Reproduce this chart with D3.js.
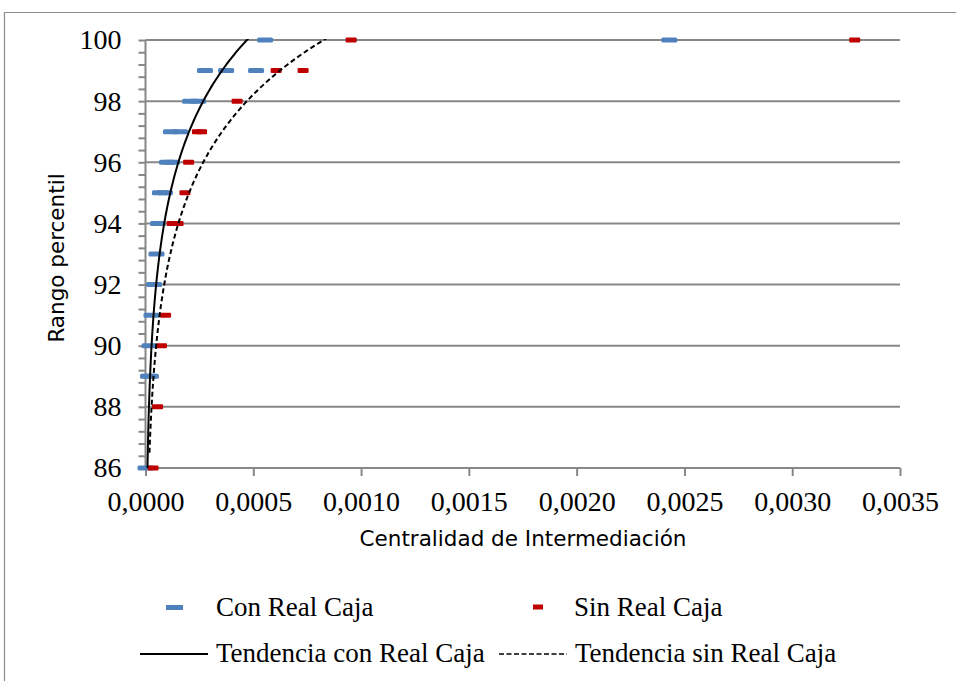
<!DOCTYPE html>
<html>
<head>
<meta charset="utf-8">
<script src="https://cdn.jsdelivr.net/npm/d3@7/dist/d3.min.js"></script>
<style>
  html, body { margin: 0; padding: 0; background: #fff; }
  svg { display: block; }
</style>
</head>
<body>
<svg id="chart" width="956" height="681"></svg>
<script>
// ---- Data ----
const conY = [100, 100, 99, 99, 99, 98, 98, 97, 97, 96, 96, 95, 95, 94, 93, 92, 91, 90, 89, 89, 86];
const conX = [0.000555, 0.00243, 0.000276, 0.000374, 0.000513, 0.000207, 0.000244, 0.000118, 0.00016,
              0.0001, 0.000123, 0.000067, 0.00009, 0.000058, 0.000051, 0.00004, 0.000028, 0.000019,
              0.000012, 0.000025, 0];
const sinY = [100, 100, 99, 99, 98, 97, 97, 96, 95, 94, 94, 91, 90, 88, 86];
const sinX = [0.000954, 0.00329, 0.000606, 0.000731, 0.000425, 0.000241, 0.00026, 0.0002, 0.000183,
              0.000123, 0.000151, 0.000093, 0.000074, 0.000056, 0.000035];

// logarithmic trend lines: y = a * ln(x) + b
const trendNames = ["Tendencia con Real Caja", "Tendencia sin Real Caja"];
const trendA = [3.55, 3.55];
const trendB = [127.2, 125.2];
const trendYMin = [86, 86.5];

const seriesNames = ["Con Real Caja", "Sin Real Caja"];
const xTicks = [0, 0.0005, 0.001, 0.0015, 0.002, 0.0025, 0.003, 0.0035];
const yTicks = [86, 88, 90, 92, 94, 96, 98, 100];

// ---- Setup ----
const svg = d3.select("#chart");
const blue = "#4F81BD", red = "#C00000", gray = "#878787";
const serif = "'Liberation Serif', 'Times New Roman', serif";
const sans = "'DejaVu Sans', Verdana, sans-serif";

const x = d3.scaleLinear().domain([0, 0.0035]).range([145.5, 900]);
const y = d3.scaleLinear().domain([86, 100]).range([468, 40]);

// outer chart border
svg.append("path")
  .attr("d", "M4.5,690 V12.5 H960")
  .attr("fill", "none").attr("stroke", "#8c8c8c").attr("stroke-width", 1.2);

// gridlines
svg.append("g").selectAll("line").data(yTicks).join("line")
  .attr("x1", x(0)).attr("x2", x(0.0035))
  .attr("y1", d => y(d)).attr("y2", d => y(d))
  .attr("stroke", gray).attr("stroke-width", 2);

// y axis minor ticks
const minor = d3.range(0, 36).map(i => 86 + i * 0.4);
const yMinor = svg.append("g").attr("transform", `translate(${x(0)},0)`)
  .call(d3.axisLeft(y).tickValues(minor).tickSize(7).tickFormat(""));
yMinor.selectAll("line").attr("stroke", gray).attr("stroke-width", 2);
yMinor.select(".domain").attr("stroke", gray).attr("stroke-width", 2).attr("d", `M0,${y(100)}V${y(86)}`);

// y axis labels
const yLab = svg.append("g").attr("transform", `translate(${x(0)},0)`)
  .call(d3.axisLeft(y).tickValues(yTicks).tickSize(0).tickPadding(24).tickFormat(d3.format("d")));
yLab.select(".domain").remove();
yLab.selectAll("text").attr("font-family", serif).attr("font-size", 28).attr("fill", "#000");

// x axis
const loc = d3.formatLocale({decimal: ",", thousands: ".", grouping: [3], currency: ["", ""]});
const xAx = svg.append("g").attr("transform", `translate(0,${y(86)})`)
  .call(d3.axisBottom(x).tickValues(xTicks).tickSize(8).tickPadding(15).tickFormat(loc.format(".4f")));
xAx.selectAll("line").attr("stroke", gray).attr("stroke-width", 2);
xAx.select(".domain").attr("stroke", gray).attr("stroke-width", 2).attr("d", `M${x(0)},0H${x(0.0035)}`);
xAx.selectAll("text").attr("font-family", serif).attr("font-size", 28).attr("fill", "#000");

// axis titles
svg.append("text").attr("x", 523).attr("y", 546).attr("text-anchor", "middle")
  .attr("font-family", sans).attr("font-size", 21.5).attr("fill", "#000")
  .text("Centralidad de Intermediación");
svg.append("text").attr("transform", "translate(64,258) rotate(-90)").attr("text-anchor", "middle")
  .attr("font-family", sans).attr("font-size", 21.5).attr("fill", "#000")
  .text("Rango percentil");

// markers
const conData = conX.map((v, i) => ({x: v, y: conY[i]}));
const sinData = sinX.map((v, i) => ({x: v, y: sinY[i]}));
svg.append("g").selectAll("rect").data(conData).join("rect")
  .attr("x", d => x(d.x) - 8).attr("y", d => y(d.y) - 2.5)
  .attr("width", 16).attr("height", 5).attr("rx", 1.5)
  .attr("fill", blue);
svg.append("g").selectAll("rect").data(sinData).join("rect")
  .attr("x", d => x(d.x) - 5.5).attr("y", d => y(d.y) - 2.5)
  .attr("width", 11).attr("height", 5).attr("rx", 1)
  .attr("fill", red);

// trend lines
svg.append("defs").append("clipPath").attr("id", "plotclip")
  .append("rect").attr("x", x(0)).attr("y", y(100) - 1).attr("width", x(0.0035) - x(0)).attr("height", y(86) - y(100) + 2);
const line = d3.line().x(d => x(d[0])).y(d => y(d[1])).curve(d3.curveLinear);
trendA.forEach((a, i) => {
  const b = trendB[i];
  const pts = d3.range(trendYMin[i], 100.6, 0.05).map(v => [Math.exp((v - b) / a), v]);
  svg.append("path").attr("d", line(pts)).attr("clip-path", "url(#plotclip)")
    .attr("fill", "none").attr("stroke", "#000").attr("stroke-width", 2)
    .attr("stroke-dasharray", i === 1 ? "5,3" : null);
});

// legend
const leg = svg.append("g").attr("font-family", serif).attr("font-size", 27).attr("fill", "#000");
leg.append("rect").attr("x", 166).attr("y", 605).attr("width", 17).attr("height", 5).attr("fill", blue);
leg.append("text").attr("x", 216).attr("y", 616).text(seriesNames[0]);
leg.append("rect").attr("x", 533).attr("y", 604.5).attr("width", 10).attr("height", 5).attr("fill", red);
leg.append("text").attr("x", 574).attr("y", 616).text(seriesNames[1]);
leg.append("line").attr("x1", 140).attr("x2", 208).attr("y1", 654).attr("y2", 654)
  .attr("stroke", "#000").attr("stroke-width", 2);
leg.append("text").attr("x", 216).attr("y", 662).text(trendNames[0]);
leg.append("line").attr("x1", 499).attr("x2", 567).attr("y1", 654).attr("y2", 654)
  .attr("stroke", "#000").attr("stroke-width", 1.5).attr("stroke-dasharray", "5,2.5");
leg.append("text").attr("x", 575).attr("y", 662).text(trendNames[1]);
</script>
</body>
</html>
